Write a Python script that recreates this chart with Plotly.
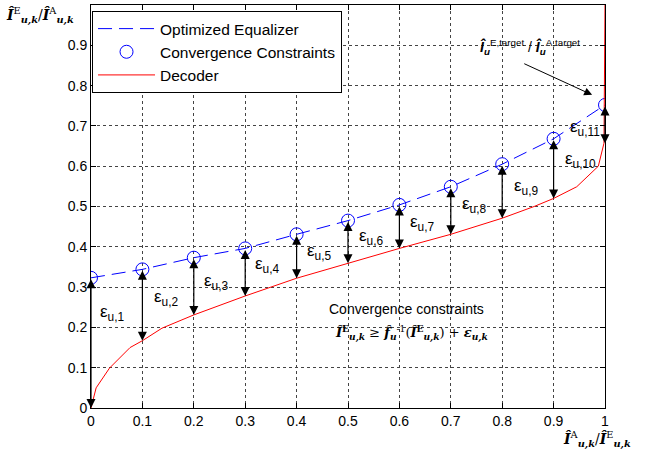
import plotly.graph_objects as go

# ---- data ----
eq_x = [0.0, 0.1, 0.2, 0.3, 0.4, 0.5, 0.6, 0.7, 0.8, 0.9, 1.0]
eq_y = [0.323, 0.344, 0.373, 0.396, 0.431, 0.465, 0.504, 0.549, 0.605, 0.668, 0.752]

dec_x = [0.0, 0.01, 0.036, 0.076, 0.1, 0.138, 0.2, 0.3, 0.4, 0.5, 0.6, 0.7, 0.8,
         0.862, 0.9, 0.945, 0.987, 0.998, 1.0]
dec_y = [0.0, 0.05, 0.099, 0.15, 0.167, 0.198, 0.231, 0.278, 0.322, 0.359, 0.396,
         0.431, 0.471, 0.5, 0.52, 0.549, 0.6, 0.657, 1.0]

# decoder value reached by each constraint arrow
arrow_bottom = [0.0, 0.167, 0.231, 0.278, 0.322, 0.359, 0.396, 0.431, 0.471, 0.52, 0.657]
eps_labels = ["ε<sub>u,%d</sub>" % (k + 1) for k in range(len(eq_x))]

x_ticks = [0, 0.1, 0.2, 0.3, 0.4, 0.5, 0.6, 0.7, 0.8, 0.9, 1]
x_ticktext = ["0", "0.1", "0.2", "0.3", "0.4", "0.5", "0.6", "0.7", "0.8", "0.9", "1"]
y_ticks = x_ticks
y_ticktext = x_ticktext

# label placement (layout, left edge of each epsilon label)
lab_x = [0.014, 0.119, 0.216, 0.315, 0.416, 0.518, 0.617, 0.718, 0.819, 0.918, 0.928]
lab_y = [0.236, 0.273, 0.313, 0.355, 0.387, 0.424, 0.459, 0.504, 0.548, 0.615, 0.695]

FONT = "Liberation Sans, Arial, Helvetica, sans-serif"
MATH = "DejaVu Serif, serif"

fig = go.Figure()
fig.add_trace(go.Scatter(x=eq_x, y=eq_y, mode="lines", name="Optimized Equalizer",
                         line=dict(color="#0000ff", width=1, dash="14px,7px")))
fig.add_trace(go.Scatter(x=eq_x, y=eq_y, mode="markers", name="Convergence Constraints",
                         marker=dict(symbol="circle-open", size=13, color="#0000ff",
                                     line=dict(width=1, color="#0000ff"))))
fig.add_trace(go.Scatter(x=dec_x, y=dec_y, mode="lines", name="Decoder",
                         line=dict(color="#ff0000", width=1)))

ann = []
for xk, top, bot in zip(eq_x, eq_y, arrow_bottom):
    ann.append(dict(x=xk, y=bot, ax=xk, ay=top, xref="x", yref="y", axref="x", ayref="y",
                    text="", showarrow=True, arrowhead=2, startarrowhead=2,
                    arrowside="end+start", arrowsize=1.5, startarrowsize=1.5,
                    arrowwidth=1.2, arrowcolor="black"))
for lx, ly, t in zip(lab_x, lab_y, eps_labels):
    ann.append(dict(x=lx, y=ly, xref="x", yref="y", text=t, showarrow=False,
                    xanchor="left", yanchor="middle",
                    font=dict(family=FONT, size=17, color="black")))

hatI = "<b><i>Î</i></b>"
# target annotation
ann.append(dict(x=0.975, y=0.777, ax=0.84, ay=0.856, xref="x", yref="y",
                axref="x", ayref="y", text="", showarrow=True, arrowhead=2,
                arrowsize=1.6, arrowwidth=1, arrowcolor="black"))
ann.append(dict(x=0.854, y=0.896, xref="x", yref="y",
                text=hatI + "<sub><b><i>u</i></b></sub><sup>E,target</sup> / " +
                     hatI + "<sub><b><i>u</i></b></sub><sup>A,target</sup>",
                showarrow=False, font=dict(family=FONT, size=14, color="black")))
ann.append(dict(x=0.613, y=0.246, xref="x", yref="y", text="Convergence constraints",
                showarrow=False, font=dict(family=FONT, size=14, color="black")))
ann.append(dict(x=0.623, y=0.186, xref="x", yref="y",
                text=hatI + "<sup><b>E</b></sup><sub><b><i>u,k</i></b></sub> ≥ " +
                     "<b><i>f̂</i></b><sub><b><i>u</i></b></sub><sup>-1</sup>(" + hatI +
                     "<sup><b>E</b></sup><sub><b><i>u,k</i></b></sub>) + <b><i>ε</i></b><sub><b><i>u,k</i></b></sub>",
                showarrow=False, font=dict(family=MATH, size=13, color="black")))
# axis labels
ann.append(dict(x=-0.099, y=0.975, xref="paper", yref="paper",
                text=hatI + "<sup>E</sup><sub><b><i>u,k</i></b></sub>/" + hatI +
                     "<sup>A</sup><sub><b><i>u,k</i></b></sub>",
                showarrow=False, xanchor="center", yanchor="middle",
                font=dict(family=MATH, size=14, color="black")))
ann.append(dict(x=0.985, y=-0.079, xref="paper", yref="paper",
                text=hatI + "<sup>A</sup><sub><b><i>u,k</i></b></sub>/" + hatI +
                     "<sup>E</sup><sub><b><i>u,k</i></b></sub>",
                showarrow=False, xanchor="center", yanchor="middle",
                font=dict(family=MATH, size=14, color="black")))

axis_common = dict(showgrid=True, gridcolor="#444", gridwidth=1, griddash="3px,3px",
                   showline=True, linecolor="black", linewidth=1, mirror="ticks",
                   ticks="inside", ticklen=5, tickcolor="black", zeroline=False,
                   automargin=False,
                   tickfont=dict(family=FONT, size=14, color="black"))

fig.update_layout(
    template="none",
    width=649, height=461,
    margin=dict(l=91, r=44, t=5, b=53),
    plot_bgcolor="white", paper_bgcolor="white",
    xaxis=dict(range=[0, 1], tickvals=x_ticks, ticktext=x_ticktext, **axis_common),
    yaxis=dict(range=[0, 1], tickvals=y_ticks, ticktext=y_ticktext, **axis_common),
    legend=dict(x=0.002, y=0.985, xanchor="left", yanchor="top",
                bgcolor="white", bordercolor="black", borderwidth=1,
                font=dict(family=FONT, size=15.5, color="black"), itemwidth=57),
    annotations=ann,
    showlegend=True,
)
fig.write_html("out.html", config={"displayModeBar": False},
               post_script="document.body.style.margin='0';")
